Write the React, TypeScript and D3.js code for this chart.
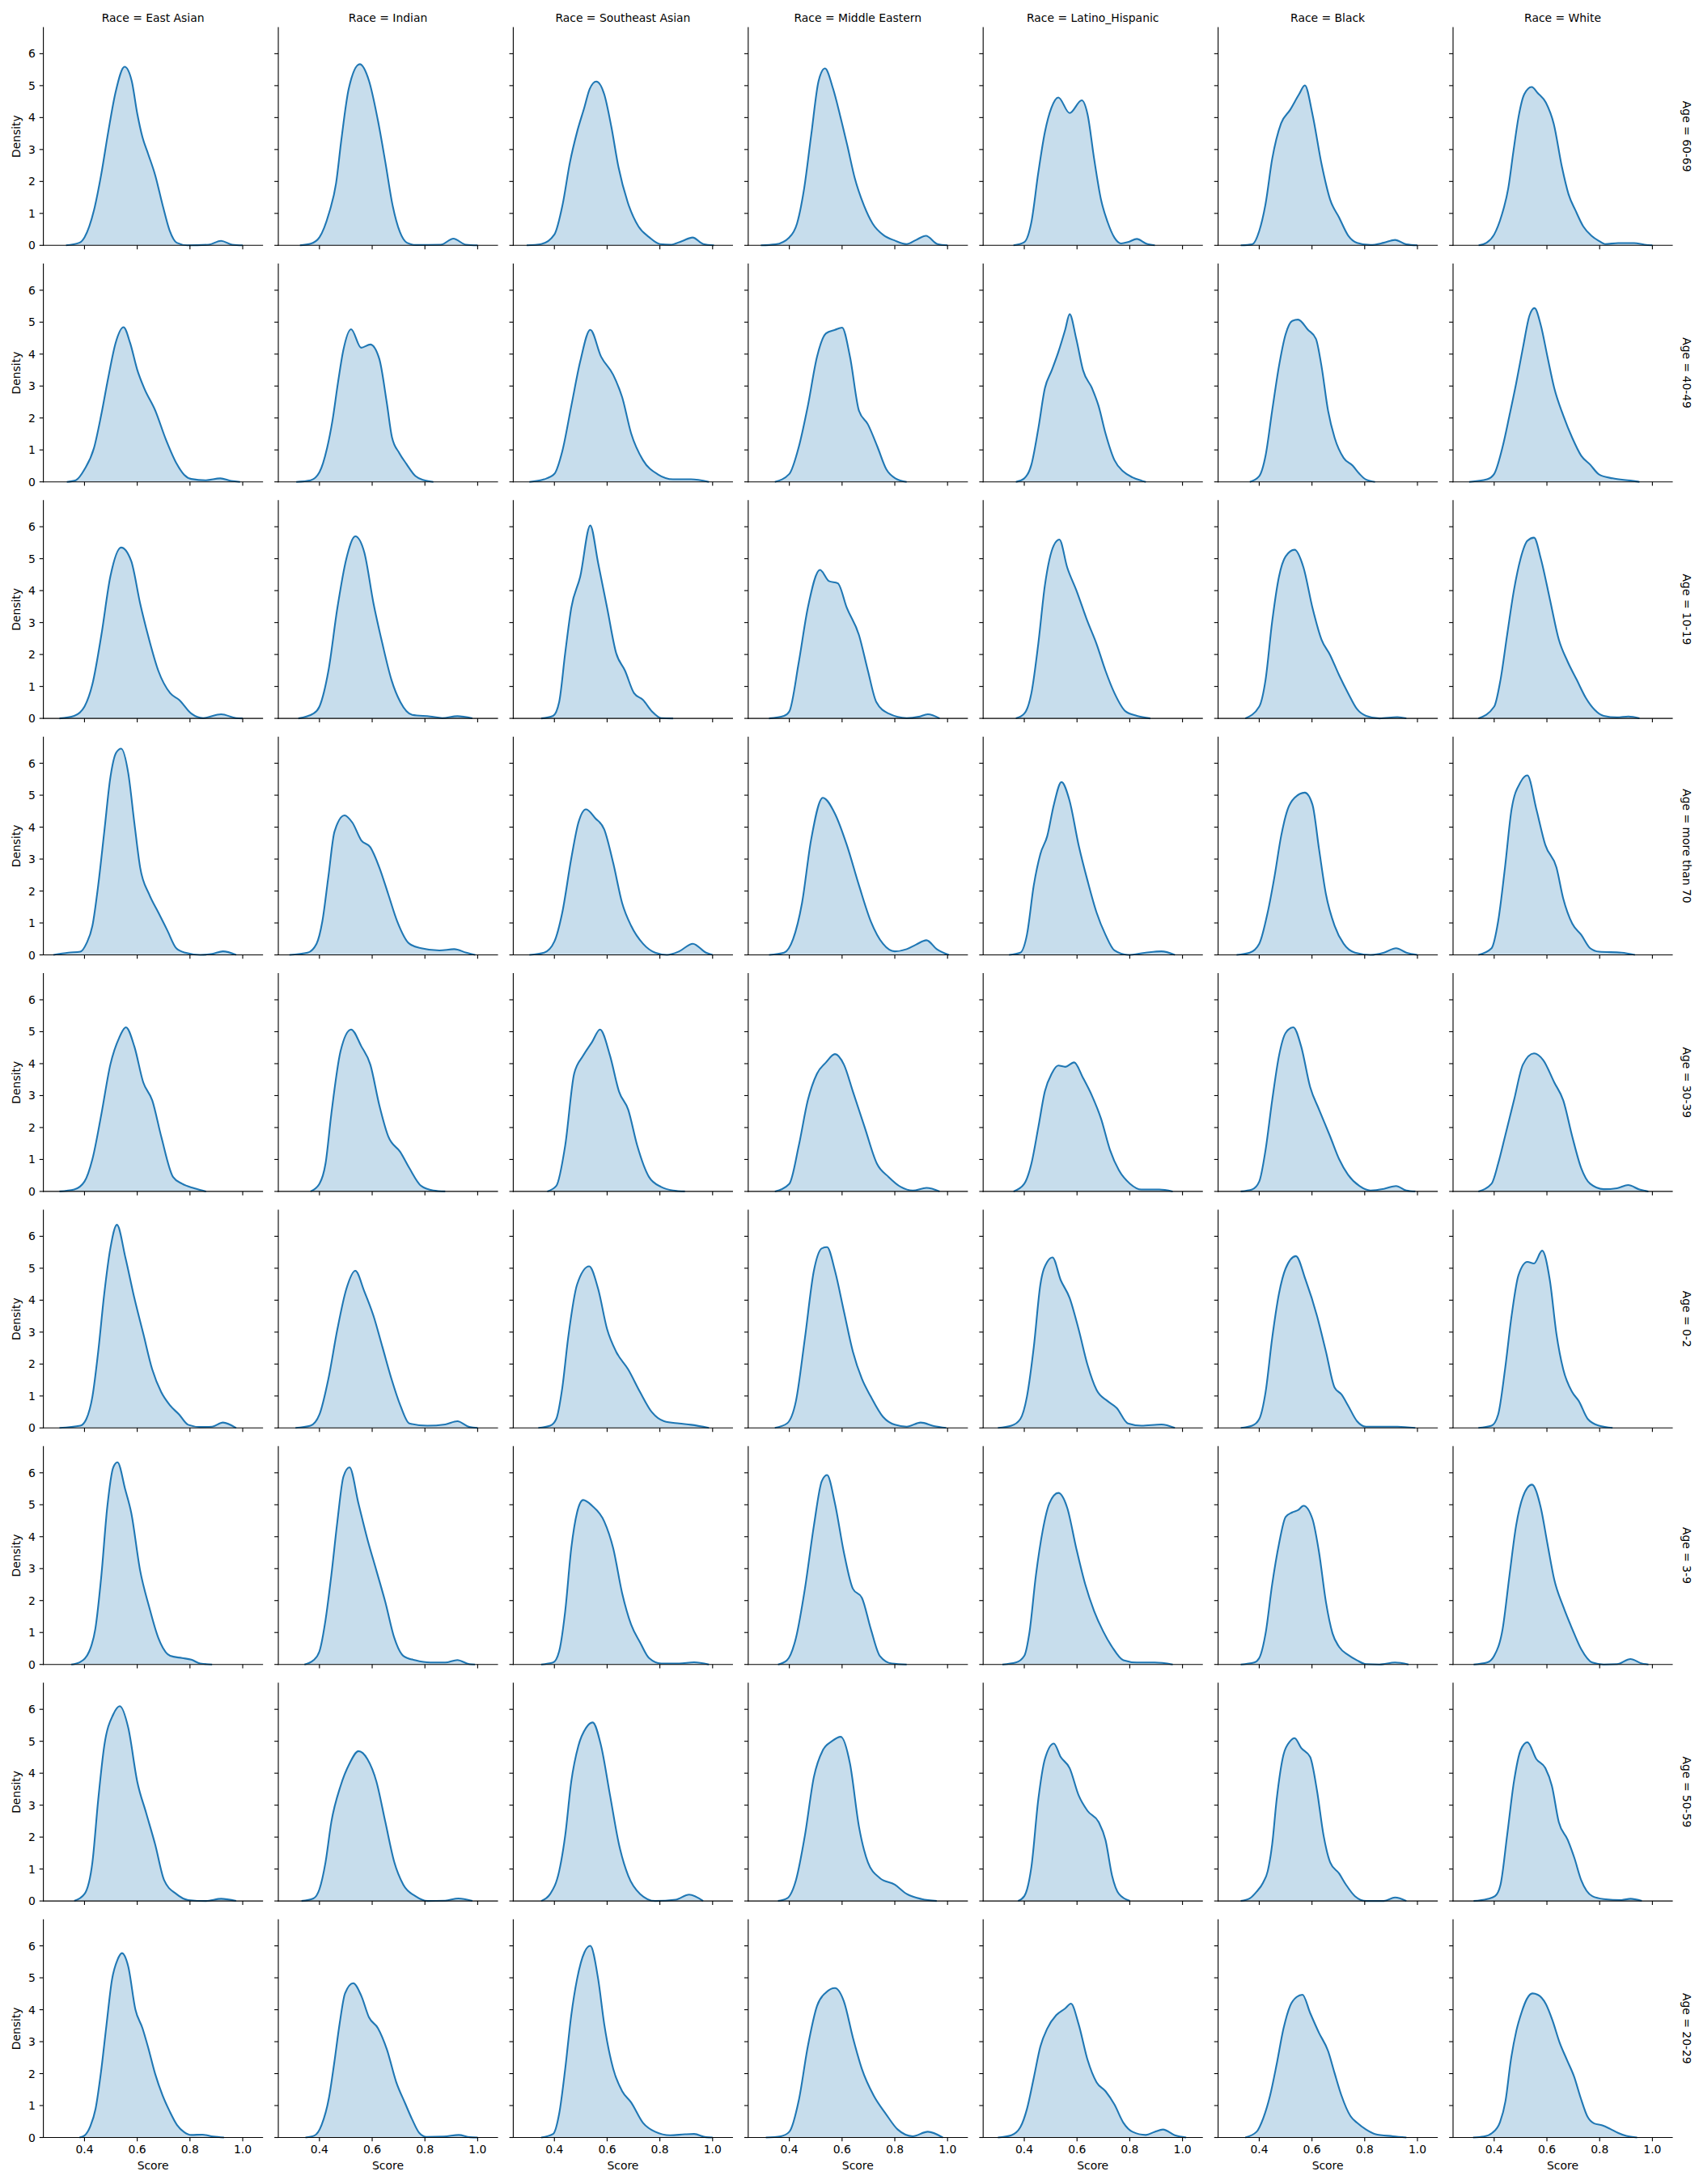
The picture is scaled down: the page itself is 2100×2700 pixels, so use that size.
import React from "react";
import * as d3 from "d3";

// facet labels
const races = ["East Asian", "Indian", "Southeast Asian", "Middle Eastern", "Latino_Hispanic", "Black", "White"];
const ages = ["60-69", "40-49", "10-19", "more than 70", "30-39", "0-2", "3-9", "50-59", "20-29"];
const xTicks = [0.4, 0.6, 0.8, 1.0];
const yTicks = [0, 1, 2, 3, 4, 5, 6];

// density curves, [score, density], one list per race
const age6069 = [
  [[0.33,0],[0.38,0.08],[0.40,0.25],[0.436,1.1],[0.463,2.2],[0.49,3.55],[0.518,4.8],[0.552,5.59],[0.579,5.15],[0.60,4.13],[0.62,3.38],[0.641,2.87],[0.668,2.2],[0.696,1.27],[0.723,0.46],[0.75,0.08],[0.79,0],[0.87,0.02],[0.918,0.14],[0.96,0.02],[1.0,0]],
  [[0.326,0],[0.367,0.05],[0.40,0.25],[0.436,1.0],[0.463,1.94],[0.483,3.3],[0.511,4.9],[0.553,5.67],[0.588,5.15],[0.622,3.9],[0.65,2.6],[0.677,1.27],[0.705,0.42],[0.732,0.08],[0.767,0.01],[0.86,0.02],[0.908,0.21],[0.955,0.02],[1.0,0]],
  [[0.295,0],[0.35,0.04],[0.40,0.34],[0.431,1.27],[0.459,2.6],[0.486,3.55],[0.513,4.3],[0.534,4.9],[0.559,5.13],[0.589,4.73],[0.616,3.71],[0.643,2.45],[0.678,1.35],[0.719,0.59],[0.76,0.25],[0.80,0.04],[0.84,0.02],[0.883,0.13],[0.924,0.245],[0.965,0.04],[1.005,0]],
  [[0.292,0],[0.347,0.03],[0.40,0.25],[0.429,0.68],[0.456,1.77],[0.483,3.46],[0.511,5.15],[0.535,5.54],[0.566,4.9],[0.593,4.05],[0.62,3.12],[0.648,2.11],[0.682,1.27],[0.716,0.68],[0.757,0.32],[0.80,0.15],[0.845,0.04],[0.881,0.17],[0.918,0.3],[0.962,0.04],[1.0,0]],
  [[0.359,0],[0.40,0.1],[0.427,0.73],[0.453,2.27],[0.478,3.54],[0.503,4.31],[0.529,4.63],[0.572,4.14],[0.618,4.54],[0.64,4.1],[0.665,2.7],[0.691,1.43],[0.716,0.73],[0.742,0.24],[0.767,0.06],[0.793,0.1],[0.827,0.2],[0.861,0.06],[0.895,0]],
  [[0.33,0],[0.373,0.03],[0.40,0.45],[0.424,1.3],[0.449,2.7],[0.483,3.82],[0.517,4.24],[0.551,4.73],[0.573,5.01],[0.602,4.1],[0.636,2.56],[0.669,1.43],[0.703,0.87],[0.737,0.31],[0.771,0.08],[0.822,0.01],[0.872,0.08],[0.915,0.17],[0.958,0.03],[1.0,0]],
  [[0.341,0],[0.371,0.08],[0.40,0.34],[0.428,0.93],[0.453,1.77],[0.473,2.95],[0.493,4.05],[0.514,4.73],[0.542,4.96],[0.565,4.77],[0.596,4.47],[0.626,3.8],[0.657,2.45],[0.682,1.6],[0.708,1.1],[0.738,0.59],[0.769,0.3],[0.799,0.13],[0.82,0.04],[0.87,0.07],[0.931,0.07],[0.97,0.02],[1.0,0]],
];

const age4049 = [
  [[0.333,0],[0.367,0.05],[0.40,0.39],[0.436,1.06],[0.463,2.08],[0.49,3.26],[0.518,4.35],[0.548,4.84],[0.573,4.35],[0.60,3.51],[0.627,2.92],[0.668,2.24],[0.709,1.32],[0.75,0.56],[0.778,0.22],[0.805,0.09],[0.86,0.05],[0.915,0.11],[0.956,0.03],[0.99,0]],
  [[0.312,0],[0.367,0.05],[0.40,0.3],[0.429,1.06],[0.449,1.9],[0.47,3.09],[0.49,4.1],[0.52,4.78],[0.558,4.2],[0.593,4.3],[0.627,3.85],[0.655,2.5],[0.675,1.4],[0.703,0.9],[0.73,0.56],[0.764,0.18],[0.798,0.05],[0.832,0]],
  [[0.305,0],[0.361,0.08],[0.40,0.25],[0.43,0.96],[0.464,2.37],[0.498,3.77],[0.536,4.76],[0.577,3.92],[0.623,3.35],[0.657,2.65],[0.691,1.52],[0.736,0.68],[0.793,0.23],[0.85,0.08],[0.918,0.08],[0.986,0]],
  [[0.345,0],[0.40,0.25],[0.436,1.1],[0.47,2.37],[0.505,3.92],[0.539,4.65],[0.573,4.76],[0.60,4.83],[0.63,3.92],[0.664,2.23],[0.698,1.8],[0.734,1.1],[0.768,0.39],[0.802,0.11],[0.845,0]],
  [[0.368,0],[0.40,0.11],[0.427,0.54],[0.453,1.66],[0.478,2.93],[0.504,3.49],[0.529,4.06],[0.555,4.76],[0.572,5.25],[0.597,4.48],[0.623,3.49],[0.657,2.93],[0.682,2.37],[0.708,1.52],[0.742,0.68],[0.776,0.32],[0.81,0.14],[0.844,0.04],[0.861,0]],
  [[0.364,0],[0.40,0.18],[0.424,0.82],[0.449,2.23],[0.475,3.63],[0.50,4.62],[0.525,5.04],[0.547,5.08],[0.585,4.76],[0.615,4.48],[0.636,3.63],[0.661,2.23],[0.686,1.38],[0.72,0.75],[0.754,0.51],[0.78,0.25],[0.805,0.07],[0.839,0]],
  [[0.305,0],[0.373,0.08],[0.40,0.25],[0.432,1.1],[0.458,2.08],[0.483,3.07],[0.509,4.2],[0.534,5.21],[0.553,5.44],[0.577,4.9],[0.602,3.92],[0.628,2.93],[0.662,2.08],[0.696,1.38],[0.73,0.82],[0.764,0.54],[0.798,0.23],[0.849,0.11],[0.917,0.04],[0.951,0]],
];

const age1019 = [
  [[0.305,0],[0.361,0.08],[0.40,0.37],[0.43,1.07],[0.464,2.61],[0.498,4.44],[0.539,5.35],[0.577,4.93],[0.611,3.6],[0.645,2.47],[0.68,1.49],[0.725,0.79],[0.759,0.58],[0.805,0.15],[0.85,0.01],[0.918,0.13],[0.975,0.01],[1.0,0]],
  [[0.32,0],[0.377,0.15],[0.40,0.37],[0.434,1.49],[0.468,3.46],[0.502,5.0],[0.536,5.7],[0.57,5.2],[0.605,3.6],[0.639,2.33],[0.673,1.21],[0.707,0.51],[0.752,0.11],[0.82,0.06],[0.866,0.01],[0.923,0.07],[0.98,0]],
  [[0.35,0],[0.395,0.08],[0.418,0.51],[0.441,2.05],[0.464,3.46],[0.498,4.44],[0.536,6.04],[0.566,4.86],[0.60,3.46],[0.634,2.05],[0.668,1.49],[0.702,0.79],[0.736,0.58],[0.77,0.22],[0.805,0.01],[0.85,0]],
  [[0.323,0],[0.38,0.08],[0.40,0.22],[0.436,1.77],[0.47,3.46],[0.516,4.65],[0.55,4.3],[0.584,4.23],[0.618,3.46],[0.664,2.61],[0.698,1.49],[0.73,0.51],[0.777,0.15],[0.845,0.01],[0.89,0.05],[0.925,0.13],[0.97,0]],
  [[0.368,0],[0.40,0.15],[0.427,0.79],[0.453,2.33],[0.478,4.16],[0.512,5.42],[0.533,5.6],[0.563,4.72],[0.597,4.02],[0.64,3.03],[0.674,2.33],[0.708,1.49],[0.742,0.79],[0.784,0.22],[0.827,0.08],[0.878,0]],
  [[0.347,0],[0.40,0.37],[0.424,1.21],[0.449,3.03],[0.475,4.44],[0.50,5.07],[0.534,5.28],[0.568,4.72],[0.602,3.46],[0.636,2.47],[0.669,1.98],[0.703,1.35],[0.737,0.79],[0.771,0.29],[0.805,0.08],[0.856,0],[0.924,0.04],[0.958,0]],
  [[0.34,0],[0.40,0.37],[0.424,1.21],[0.449,2.61],[0.475,4.02],[0.50,5.0],[0.526,5.56],[0.551,5.66],[0.577,5.0],[0.611,3.74],[0.645,2.47],[0.679,1.77],[0.713,1.21],[0.747,0.65],[0.781,0.27],[0.815,0.08],[0.866,0.03],[0.909,0.06],[0.951,0]],
];

const age70 = [
  [[0.282,0],[0.339,0.07],[0.384,0.1],[0.407,0.35],[0.43,0.91],[0.452,2.18],[0.475,3.86],[0.498,5.55],[0.52,6.33],[0.539,6.46],[0.566,5.69],[0.589,4.14],[0.611,2.74],[0.645,1.9],[0.68,1.33],[0.714,0.77],[0.748,0.21],[0.782,0.07],[0.839,0],[0.884,0.03],[0.925,0.11],[0.975,0]],
  [[0.286,0],[0.355,0.07],[0.389,0.35],[0.411,1.05],[0.434,2.46],[0.457,3.86],[0.495,4.37],[0.525,4.14],[0.559,3.58],[0.593,3.37],[0.627,2.74],[0.661,1.9],[0.695,1.05],[0.741,0.35],[0.786,0.21],[0.855,0.14],[0.911,0.18],[0.957,0.07],[0.991,0]],
  [[0.305,0],[0.361,0.07],[0.40,0.42],[0.43,1.33],[0.464,3.02],[0.491,4.14],[0.52,4.56],[0.555,4.28],[0.589,3.93],[0.623,2.88],[0.657,1.62],[0.691,0.91],[0.736,0.35],[0.782,0.07],[0.827,0],[0.873,0.11],[0.925,0.35],[0.975,0.07],[1.0,0]],
  [[0.323,0],[0.38,0.07],[0.414,0.49],[0.448,1.62],[0.482,3.58],[0.527,4.92],[0.573,4.42],[0.618,3.44],[0.664,2.18],[0.709,1.05],[0.755,0.35],[0.80,0.11],[0.845,0.18],[0.88,0.32],[0.92,0.46],[0.959,0.18],[1.005,0]],
  [[0.342,0],[0.385,0.07],[0.41,0.63],[0.436,2.18],[0.461,3.16],[0.487,3.72],[0.512,4.7],[0.541,5.41],[0.571,4.85],[0.606,3.44],[0.64,2.32],[0.674,1.33],[0.708,0.63],[0.742,0.14],[0.793,0],[0.861,0.07],[0.92,0.11],[0.971,0]],
  [[0.314,0],[0.364,0.07],[0.40,0.35],[0.432,1.33],[0.458,2.46],[0.483,3.72],[0.508,4.56],[0.534,4.92],[0.573,5.08],[0.602,4.7],[0.627,3.3],[0.653,1.9],[0.686,0.91],[0.72,0.35],[0.763,0.07],[0.822,0],[0.873,0.07],[0.919,0.21],[0.958,0.07],[1.0,0]],
  [[0.34,0],[0.39,0.21],[0.415,1.05],[0.441,2.74],[0.466,4.56],[0.50,5.41],[0.526,5.62],[0.56,4.56],[0.594,3.44],[0.636,2.74],[0.662,1.76],[0.696,0.98],[0.73,0.63],[0.764,0.21],[0.798,0.1],[0.883,0.07],[0.934,0]],
];

const age3039 = [
  [[0.305,0],[0.361,0.06],[0.40,0.31],[0.43,1.01],[0.464,2.42],[0.498,3.97],[0.532,4.82],[0.557,5.14],[0.589,4.54],[0.623,3.41],[0.657,2.85],[0.691,1.72],[0.736,0.45],[0.77,0.24],[0.816,0.1],[0.861,0]],
  [[0.366,0],[0.40,0.24],[0.423,0.87],[0.445,2.42],[0.48,4.39],[0.52,5.07],[0.559,4.54],[0.593,3.97],[0.627,2.7],[0.661,1.72],[0.707,1.23],[0.741,0.73],[0.786,0.17],[0.832,0.03],[0.877,0]],
  [[0.373,0],[0.407,0.17],[0.441,1.44],[0.475,3.69],[0.509,4.25],[0.543,4.68],[0.573,5.07],[0.611,4.25],[0.645,3.13],[0.68,2.56],[0.714,1.44],[0.759,0.45],[0.805,0.14],[0.85,0.03],[0.895,0]],
  [[0.345,0],[0.40,0.24],[0.436,1.44],[0.47,2.85],[0.505,3.69],[0.539,4.04],[0.573,4.3],[0.607,3.97],[0.641,3.13],[0.686,2.0],[0.732,0.87],[0.777,0.45],[0.823,0.14],[0.868,0.03],[0.92,0.11],[0.97,0]],
  [[0.359,0],[0.40,0.24],[0.427,0.87],[0.453,2.0],[0.478,3.13],[0.504,3.69],[0.529,3.94],[0.555,3.9],[0.589,4.04],[0.623,3.55],[0.657,2.99],[0.691,2.28],[0.725,1.3],[0.759,0.66],[0.801,0.24],[0.844,0.06],[0.912,0.06],[0.963,0]],
  [[0.33,0],[0.373,0.06],[0.40,0.31],[0.424,1.3],[0.449,2.85],[0.475,4.25],[0.50,4.96],[0.529,5.14],[0.559,4.54],[0.593,3.27],[0.627,2.56],[0.669,1.72],[0.703,1.01],[0.737,0.52],[0.78,0.17],[0.822,0.03],[0.873,0.08],[0.919,0.17],[0.958,0.03],[0.992,0]],
  [[0.34,0],[0.39,0.24],[0.415,0.87],[0.441,1.72],[0.475,2.85],[0.509,3.97],[0.551,4.32],[0.586,4.11],[0.628,3.41],[0.662,2.85],[0.696,1.72],[0.73,0.73],[0.764,0.24],[0.815,0.07],[0.866,0.1],[0.908,0.2],[0.951,0.06],[0.985,0]],
];

const age02 = [
  [[0.305,0],[0.384,0.07],[0.407,0.28],[0.43,0.98],[0.452,2.39],[0.475,4.21],[0.498,5.62],[0.523,6.36],[0.555,5.34],[0.589,4.07],[0.623,2.95],[0.657,1.83],[0.691,1.12],[0.725,0.7],[0.759,0.42],[0.793,0.1],[0.839,0.03],[0.884,0.04],[0.925,0.17],[0.975,0]],
  [[0.309,0],[0.366,0.07],[0.40,0.42],[0.434,1.54],[0.468,3.09],[0.502,4.35],[0.536,4.92],[0.57,4.28],[0.605,3.51],[0.639,2.53],[0.673,1.54],[0.707,0.7],[0.741,0.14],[0.809,0.07],[0.877,0.11],[0.923,0.21],[0.968,0.03],[1.0,0]],
  [[0.339,0],[0.384,0.07],[0.407,0.28],[0.43,1.26],[0.452,2.81],[0.486,4.49],[0.532,5.06],[0.566,4.35],[0.60,3.09],[0.634,2.39],[0.68,1.83],[0.725,1.12],[0.77,0.49],[0.816,0.21],[0.873,0.14],[0.918,0.1],[0.986,0]],
  [[0.345,0],[0.391,0.14],[0.425,0.84],[0.459,2.81],[0.493,4.92],[0.523,5.62],[0.543,5.66],[0.573,4.92],[0.607,3.65],[0.641,2.39],[0.675,1.54],[0.709,0.98],[0.755,0.35],[0.80,0.1],[0.845,0.04],[0.898,0.17],[0.948,0.06],[0.995,0]],
  [[0.30,0],[0.351,0.07],[0.385,0.28],[0.41,0.98],[0.436,2.53],[0.461,4.49],[0.487,5.2],[0.507,5.34],[0.538,4.63],[0.572,4.07],[0.606,3.09],[0.64,1.97],[0.674,1.19],[0.716,0.84],[0.75,0.63],[0.793,0.14],[0.844,0.07],[0.92,0.11],[0.971,0]],
  [[0.33,0],[0.373,0.07],[0.40,0.28],[0.424,1.12],[0.449,2.81],[0.475,4.21],[0.50,4.99],[0.539,5.38],[0.576,4.63],[0.619,3.51],[0.653,2.39],[0.686,1.26],[0.712,1.05],[0.737,0.7],[0.771,0.21],[0.805,0.04],[0.924,0.04],[0.992,0]],
  [[0.34,0],[0.39,0.07],[0.415,0.42],[0.441,1.83],[0.466,3.51],[0.492,4.78],[0.526,5.2],[0.551,5.15],[0.582,5.55],[0.611,4.63],[0.636,2.95],[0.662,1.83],[0.696,1.12],[0.721,0.84],[0.755,0.28],[0.798,0.07],[0.849,0]],
];

const age39 = [
  [[0.35,0],[0.384,0.08],[0.418,0.41],[0.441,1.11],[0.464,2.79],[0.486,4.9],[0.509,6.17],[0.525,6.33],[0.555,5.46],[0.577,4.76],[0.611,2.94],[0.645,1.81],[0.68,0.83],[0.725,0.27],[0.77,0.2],[0.805,0.15],[0.839,0.03],[0.884,0]],
  [[0.343,0],[0.377,0.13],[0.40,0.41],[0.423,1.39],[0.445,2.79],[0.468,4.48],[0.491,5.88],[0.514,6.17],[0.548,5.04],[0.582,3.92],[0.616,2.94],[0.65,1.95],[0.684,0.83],[0.718,0.27],[0.764,0.13],[0.82,0.06],[0.877,0.06],[0.923,0.14],[0.968,0.01],[0.99,0]],
  [[0.35,0],[0.395,0.06],[0.418,0.41],[0.441,1.67],[0.464,3.64],[0.486,4.76],[0.509,5.15],[0.543,4.97],[0.589,4.48],[0.623,3.64],[0.657,2.23],[0.691,1.25],[0.725,0.69],[0.759,0.2],[0.805,0.03],[0.873,0.03],[0.93,0.07],[0.986,0]],
  [[0.357,0],[0.391,0.13],[0.425,0.83],[0.459,2.37],[0.493,4.34],[0.523,5.74],[0.543,5.93],[0.573,5.04],[0.607,3.5],[0.641,2.37],[0.675,2.09],[0.709,1.11],[0.743,0.27],[0.789,0.03],[0.845,0]],
  [[0.317,0],[0.368,0.06],[0.40,0.27],[0.419,0.97],[0.444,2.79],[0.47,4.2],[0.495,5.04],[0.529,5.37],[0.563,4.9],[0.597,3.64],[0.631,2.51],[0.665,1.67],[0.699,1.04],[0.733,0.55],[0.776,0.13],[0.827,0.06],[0.895,0.06],[0.963,0]],
  [[0.33,0],[0.381,0.06],[0.40,0.2],[0.424,0.97],[0.449,2.51],[0.475,3.78],[0.50,4.62],[0.525,4.76],[0.547,4.83],[0.568,4.97],[0.602,4.55],[0.627,3.5],[0.653,1.95],[0.678,0.97],[0.703,0.55],[0.737,0.3],[0.771,0.13],[0.805,0.01],[0.856,0],[0.915,0.06],[0.966,0]],
  [[0.322,0],[0.373,0.06],[0.40,0.27],[0.432,1.11],[0.458,2.79],[0.483,4.34],[0.509,5.25],[0.543,5.63],[0.577,4.9],[0.602,3.78],[0.628,2.65],[0.662,1.81],[0.696,1.11],[0.73,0.48],[0.772,0.06],[0.815,0],[0.866,0.01],[0.917,0.17],[0.96,0.03],[0.985,0]],
];

const age5059 = [
  [[0.361,0],[0.40,0.22],[0.43,1.21],[0.452,3.17],[0.475,4.86],[0.509,5.84],[0.534,6.1],[0.566,5.42],[0.60,3.74],[0.634,2.75],[0.668,1.77],[0.702,0.65],[0.748,0.22],[0.793,0.03],[0.861,0],[0.918,0.07],[0.975,0]],
  [[0.332,0],[0.377,0.08],[0.40,0.37],[0.423,1.21],[0.445,2.47],[0.48,3.6],[0.514,4.3],[0.548,4.69],[0.582,4.44],[0.616,3.74],[0.65,2.47],[0.684,1.21],[0.718,0.51],[0.764,0.15],[0.809,0],[0.877,0.01],[0.927,0.08],[0.98,0]],
  [[0.35,0],[0.384,0.22],[0.418,0.93],[0.441,2.05],[0.464,3.74],[0.491,4.86],[0.52,5.42],[0.545,5.59],[0.577,4.86],[0.611,3.31],[0.645,1.77],[0.68,0.79],[0.725,0.22],[0.782,0],[0.86,0.04],[0.911,0.2],[0.964,0]],
  [[0.357,0],[0.391,0.08],[0.425,0.65],[0.459,2.05],[0.493,3.88],[0.527,4.72],[0.561,5.0],[0.595,5.14],[0.63,4.3],[0.664,2.33],[0.698,1.21],[0.743,0.72],[0.80,0.51],[0.845,0.22],[0.902,0.06],[0.959,0]],
  [[0.376,0],[0.40,0.15],[0.427,1.07],[0.453,3.17],[0.478,4.44],[0.512,4.93],[0.538,4.51],[0.572,4.16],[0.606,3.31],[0.64,2.82],[0.682,2.47],[0.708,1.91],[0.733,0.79],[0.759,0.22],[0.801,0]],
  [[0.33,0],[0.364,0.08],[0.39,0.29],[0.415,0.58],[0.432,0.93],[0.449,1.77],[0.466,3.17],[0.492,4.58],[0.517,5.0],[0.534,5.1],[0.559,4.79],[0.593,4.51],[0.619,3.46],[0.644,2.05],[0.669,1.21],[0.703,0.86],[0.729,0.51],[0.763,0.15],[0.805,0],[0.873,0],[0.915,0.11],[0.958,0]],
  [[0.322,0],[0.373,0.06],[0.403,0.15],[0.424,0.51],[0.449,2.05],[0.475,3.74],[0.50,4.72],[0.526,4.97],[0.56,4.44],[0.594,4.16],[0.619,3.6],[0.645,2.47],[0.679,1.91],[0.704,1.35],[0.73,0.65],[0.772,0.15],[0.815,0.06],[0.883,0.03],[0.917,0.07],[0.96,0]],
];

const age2029 = [
  [[0.381,0],[0.40,0.06],[0.422,0.35],[0.442,0.9],[0.463,2.08],[0.483,3.5],[0.504,4.93],[0.525,5.56],[0.542,5.77],[0.566,5.35],[0.593,4.01],[0.62,3.42],[0.641,2.83],[0.668,1.99],[0.696,1.32],[0.723,0.82],[0.751,0.39],[0.778,0.17],[0.805,0.08],[0.847,0.09],[0.888,0.03],[0.929,0]],
  [[0.347,0],[0.381,0.06],[0.408,0.39],[0.436,1.24],[0.456,2.33],[0.477,3.59],[0.497,4.51],[0.528,4.83],[0.559,4.43],[0.588,3.76],[0.622,3.42],[0.656,2.75],[0.691,1.74],[0.725,1.07],[0.752,0.56],[0.779,0.14],[0.806,0.02],[0.873,0.03],[0.928,0.08],[0.97,0.01],[1.0,0]],
  [[0.35,0],[0.395,0.11],[0.418,0.74],[0.441,2.15],[0.464,3.83],[0.486,4.96],[0.514,5.8],[0.536,6.0],[0.566,4.96],[0.589,3.55],[0.623,2.15],[0.657,1.45],[0.691,1.1],[0.736,0.46],[0.782,0.18],[0.839,0.07],[0.895,0.1],[0.93,0.11],[0.975,0.01],[1.0,0]],
  [[0.311,0],[0.368,0.04],[0.40,0.18],[0.436,1.17],[0.47,2.85],[0.505,4.12],[0.539,4.54],[0.573,4.68],[0.607,4.26],[0.641,3.13],[0.675,2.15],[0.72,1.31],[0.766,0.74],[0.811,0.25],[0.868,0.04],[0.925,0.18],[0.982,0]],
  [[0.30,0],[0.351,0.07],[0.385,0.32],[0.41,0.89],[0.436,1.87],[0.461,2.85],[0.487,3.41],[0.521,3.83],[0.555,4.04],[0.577,4.19],[0.606,3.55],[0.64,2.43],[0.674,1.73],[0.708,1.45],[0.742,1.03],[0.776,0.46],[0.81,0.18],[0.861,0.08],[0.895,0.18],[0.926,0.25],[0.971,0.07],[1.014,0]],
  [[0.347,0],[0.39,0.18],[0.415,0.6],[0.441,1.31],[0.466,2.29],[0.492,3.41],[0.517,4.12],[0.542,4.4],[0.564,4.47],[0.593,3.9],[0.627,3.27],[0.661,2.71],[0.686,2.01],[0.712,1.31],[0.746,0.67],[0.771,0.46],[0.805,0.25],[0.839,0.11],[0.907,0.04],[0.958,0]],
  [[0.32,0],[0.361,0.03],[0.392,0.14],[0.422,0.48],[0.443,1.15],[0.463,2.41],[0.484,3.34],[0.504,3.92],[0.524,4.34],[0.545,4.51],[0.565,4.47],[0.596,4.18],[0.621,3.67],[0.647,3.0],[0.677,2.41],[0.703,1.91],[0.728,1.24],[0.754,0.65],[0.779,0.44],[0.81,0.38],[0.84,0.27],[0.871,0.14],[0.901,0.05],[0.942,0]],
];

const rows = [age6069, age4049, age1019, age70, age3039, age02, age39, age5059, age2029];

const W = 2100;
const H = 2700;
const panelW = 271;
const panelH = 269.3;
const left0 = 53.6;
const top0 = 34;
const colStep = 290.4;
const rowStep = 292.4;
const font = "DejaVu Sans, sans-serif";
const fs = 13.9;
const blue = "#1f77b4";

const x = d3.scaleLinear().domain([0.244, 1.0755]).range([0, panelW]);
const y = d3.scaleLinear().domain([0, 6.82]).range([panelH, 0]);

const area = d3
  .area<number[]>()
  .x(d => x(d[0]))
  .y0(y(0))
  .y1(d => y(d[1]))
  .curve(d3.curveMonotoneX);

const line = d3
  .line<number[]>()
  .x(d => x(d[0]))
  .y(d => y(d[1]))
  .curve(d3.curveMonotoneX);

const Panel = ({ r, c, pts }: { r: number; c: number; pts: number[][] }) => {
  const tx = left0 + c * colStep;
  const ty = top0 + r * rowStep;
  const last = r === ages.length - 1;
  return (
    <g transform={`translate(${tx},${ty})`}>
      <path d={area(pts) || ""} fill={blue} fillOpacity={0.25} stroke="none" />
      <path d={line(pts) || ""} fill="none" stroke={blue} strokeWidth={2.08} strokeLinejoin="round" />
      {/* y ticks */}
      {yTicks.map(t => (
        <g key={"y" + t} transform={`translate(0,${y(t)})`}>
          <line x1={-4.86} x2={0} stroke="#000" strokeWidth={1.11} />
          {c === 0 && (
            <text x={-9.7} dy="0.36em" textAnchor="end" fontSize={fs} fontFamily={font}>
              {t}
            </text>
          )}
        </g>
      ))}
      {/* x ticks */}
      {xTicks.map(t => (
        <g key={"x" + t} transform={`translate(${x(t)},${panelH})`}>
          <line y1={0} y2={4.86} stroke="#000" strokeWidth={1.11} />
          {last && (
            <text y={19.2} textAnchor="middle" fontSize={fs} fontFamily={font}>
              {t.toFixed(1)}
            </text>
          )}
        </g>
      ))}
      <line x1={0} x2={0} y1={0} y2={panelH} stroke="#000" strokeWidth={1.11} strokeLinecap="square" />
      <line x1={0} x2={panelW} y1={panelH} y2={panelH} stroke="#000" strokeWidth={1.11} strokeLinecap="square" />
      {r === 0 && (
        <text x={panelW / 2} y={-7.3} textAnchor="middle" fontSize={fs} fontFamily={font}>
          {`Race = ${races[c]}`}
        </text>
      )}
      {last && (
        <text x={panelW / 2} y={panelH + 39.4} textAnchor="middle" fontSize={fs} fontFamily={font}>
          Score
        </text>
      )}
      {c === 0 && (
        <text
          transform={`translate(${25.5 - tx + left0 - left0},${panelH / 2}) rotate(-90)`}
          x={0}
          y={0}
          textAnchor="middle"
          fontSize={fs}
          fontFamily={font}
          dx={0}
        >
          Density
        </text>
      )}
      {c === races.length - 1 && (
        <text
          transform={`translate(${panelW + 13},${panelH / 2}) rotate(90)`}
          textAnchor="middle"
          fontSize={fs}
          fontFamily={font}
        >
          {`Age = ${ages[r]}`}
        </text>
      )}
    </g>
  );
};

export default function App() {
  return (
    <svg
      width={W}
      height={H}
      viewBox={`0 0 ${W} ${H}`}
      style={{ position: "absolute", left: 0, top: 0, display: "block", background: "#fff" }}
    >
      <rect width={W} height={H} fill="#fff" />
      {rows.map((row, r) =>
        row.map((pts, c) => <Panel key={`${r}-${c}`} r={r} c={c} pts={pts} />)
      )}
    </svg>
  );
}
